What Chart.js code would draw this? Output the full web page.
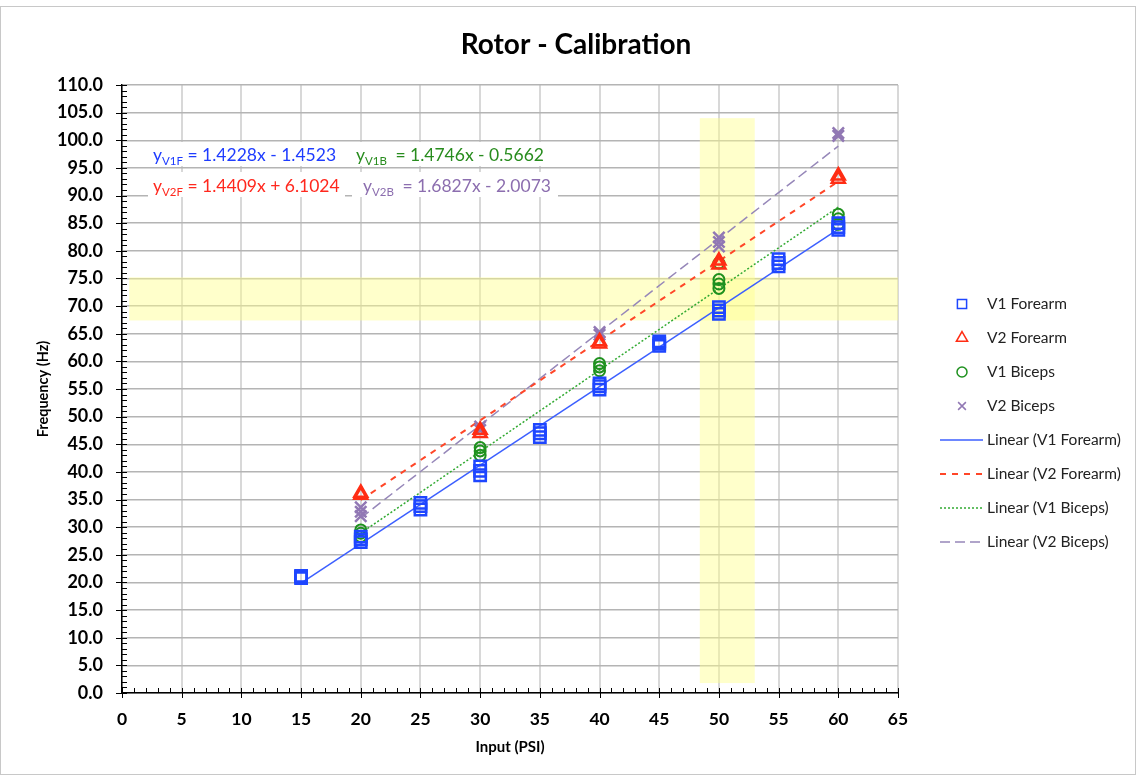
<!DOCTYPE html>
<html>
<head>
<meta charset="utf-8">
<script src="https://cdn.jsdelivr.net/npm/chart.js@4.4.1/dist/chart.umd.min.js"></script>
<style>
  html, body { margin: 0; padding: 0; background: #fff; }
  #wrap { width: 1137px; height: 776px; }
</style>
</head>
<body>
<div id="wrap"><canvas id="myChart" width="1137" height="776"></canvas></div>
<script>
// data
const seriesNames = ['V1 Forearm', 'V2 Forearm', 'V1 Biceps', 'V2 Biceps'];

const v1ForearmX = [15, 15, 15, 20, 20, 20, 25, 25, 25, 30, 30, 30, 35, 35, 35, 40, 40, 40, 45, 45, 45, 50, 50, 50, 55, 55, 55, 60, 60, 60];
const v1ForearmY = [20.8, 21.0, 21.2, 27.3, 27.8, 28.3, 33.2, 33.8, 34.4, 39.4, 40.2, 41.0, 46.3, 47.0, 47.6, 54.9, 55.5, 56.0, 62.8, 63.2, 63.6, 68.6, 69.2, 69.8, 77.2, 77.8, 78.5, 83.8, 84.3, 85.0];

const v2ForearmX = [20, 20, 30, 30, 40, 40, 50, 50, 60, 60];
const v2ForearmY = [35.8, 36.2, 47.0, 47.6, 63.2, 63.6, 77.5, 78.2, 93.0, 93.6];

const v1BicepsX = [20, 20, 20, 30, 30, 30, 40, 40, 40, 50, 50, 50, 50, 60, 60, 60];
const v1BicepsY = [28.3, 28.9, 29.5, 43.0, 43.8, 44.4, 58.3, 59.0, 59.6, 73.2, 74.0, 74.8, 77.8, 84.8, 85.8, 86.6];

const v2BicepsX = [20, 20, 20, 30, 30, 40, 40, 50, 50, 50, 60, 60];
const v2BicepsY = [32.0, 32.8, 33.6, 47.6, 48.2, 64.8, 65.3, 80.8, 81.6, 82.4, 100.8, 101.3];

// trendline equations printed on the chart
const trendSlopes = [1.4228, 1.4409, 1.4746, 1.6827];
const trendIntercepts = [-1.4523, 6.1024, -0.5662, -2.0073];
const trendFrom = [15, 20, 20, 20];
const trendTo = [60, 60, 60, 60];
const eqSubs = ['V1F', 'V2F', 'V1B', 'V2B'];

const xTicks = [0, 5, 10, 15, 20, 25, 30, 35, 40, 45, 50, 55, 60, 65];
const yTicks = [0, 5, 10, 15, 20, 25, 30, 35, 40, 45, 50, 55, 60, 65, 70, 75, 80, 85, 90, 95, 100, 105, 110];

// styles
const FONT = 'Lato, "Open Sans", sans-serif';
const markColors = ['rgb(30,70,255)', 'rgb(255,45,20)', 'rgb(30,145,30)', 'rgb(145,120,180)'];
const lineColors = ['rgb(60,95,255)', 'rgb(255,70,40)', 'rgb(50,170,50)', 'rgb(150,135,185)'];
const textColors = ['rgb(30,60,255)', 'rgb(255,40,30)', 'rgb(40,140,30)', 'rgb(140,110,175)'];
const markStyles = ['rect', 'triangle', 'circle', 'crossRot'];
const markRadius = [8, 7.5, 5.5, 8];
const markBorder = [2.5, 2.5, 2, 2.5];
const lineDashes = [[], [6, 6], [2, 2], [10, 5]];
const lineWidths = [1.5, 2, 1.5, 1.5];

const xsAll = [v1ForearmX, v2ForearmX, v1BicepsX, v2BicepsX];
const ysAll = [v1ForearmY, v2ForearmY, v1BicepsY, v2BicepsY];

const datasets = [];
for (let i = 0; i < 4; i++) {
  datasets.push({
    label: seriesNames[i],
    data: xsAll[i].map((x, k) => ({ x: x, y: ysAll[i][k] })),
    showLine: false,
    pointStyle: markStyles[i],
    pointRadius: markRadius[i],
    pointHoverRadius: markRadius[i],
    pointBorderWidth: markBorder[i],
    borderColor: markColors[i],
    backgroundColor: 'rgba(0,0,0,0)',
    order: 1
  });
}
for (let i = 0; i < 4; i++) {
  const a = trendFrom[i], b = trendTo[i];
  datasets.push({
    label: 'Linear (' + seriesNames[i] + ')',
    data: [
      { x: a, y: trendSlopes[i] * a + trendIntercepts[i] },
      { x: b, y: trendSlopes[i] * b + trendIntercepts[i] }
    ],
    showLine: true,
    borderColor: lineColors[i],
    borderWidth: lineWidths[i],
    borderDash: lineDashes[i],
    pointRadius: 0,
    fill: false,
    order: 2
  });
}

function eqText(i) {
  const b = trendIntercepts[i];
  return ' = ' + trendSlopes[i].toFixed(4) + 'x ' + (b < 0 ? '- ' : '+ ') + Math.abs(b).toFixed(4);
}

// yellow highlight bands (value space)
const bands = [
  { x0: 0.6, x1: 65, y0: 67.4, y1: 75.2 },
  { x0: 48.4, x1: 53.0, y0: 1.8, y1: 104 }
];

const extras = {
  id: 'extras',
  beforeDatasetsDraw(chart) {
    const { ctx, scales: { x, y } } = chart;
    ctx.save();
    ctx.fillStyle = 'rgba(255,255,140,0.45)';
    bands.forEach(b => {
      const px0 = x.getPixelForValue(b.x0), px1 = x.getPixelForValue(b.x1);
      const py0 = y.getPixelForValue(b.y1), py1 = y.getPixelForValue(b.y0);
      ctx.fillRect(px0, py0, px1 - px0, py1 - py0);
    });
    // equation labels
    const pos = [[153, 155], [153, 186], [356, 155], [363, 186]];
    const boxes = [[148, 142, 197, 24], [148, 172, 197, 25], [352, 142, 206, 24], [352, 172, 206, 25]];
    boxes.forEach(bx => {
      ctx.fillStyle = '#fff';
      ctx.fillRect(bx[0], bx[1], bx[2], bx[3]);
    });
    ctx.textBaseline = 'alphabetic';
    ctx.textAlign = 'left';
    for (let i = 0; i < 4; i++) {
      let [tx, ty] = pos[i];
      ty += 6;
      ctx.fillStyle = textColors[i];
      ctx.font = '17.5px ' + FONT;
      ctx.fillText('y', tx, ty);
      tx += ctx.measureText('y').width;
      ctx.font = '11.5px ' + FONT;
      ctx.fillText(eqSubs[i], tx, ty + 4);
      tx += ctx.measureText(eqSubs[i]).width + (i >= 2 ? 4 : 0);
      ctx.font = '17.5px ' + FONT;
      ctx.fillText(eqText(i), tx, ty);
    }
    ctx.restore();
  },
  afterDraw(chart) {
    const { ctx, scales: { x, y } } = chart;
    ctx.save();
    // axis tick marks
    ctx.strokeStyle = '#000';
    ctx.lineWidth = 1;
    const ax = x.getPixelForValue(0), ay = y.getPixelForValue(0);
    for (let v = 0; v <= 65; v++) {
      const px = Math.round(x.getPixelForValue(v)) + 0.5;
      ctx.beginPath();
      if (v % 5 === 0) { ctx.moveTo(px, ay - 5); ctx.lineTo(px, ay + 5); }
      else { ctx.moveTo(px, ay); ctx.lineTo(px, ay - 5); }
      ctx.stroke();
    }
    for (let v = 0; v <= 110; v++) {
      const py = Math.round(y.getPixelForValue(v)) + 0.5;
      ctx.beginPath();
      if (v % 5 === 0) { ctx.moveTo(ax - 6, py); ctx.lineTo(ax + 5, py); }
      else { ctx.moveTo(ax, py); ctx.lineTo(ax + 5, py); }
      ctx.stroke();
    }
    // title
    ctx.fillStyle = '#000';
    ctx.font = 'bold 28px ' + FONT;
    ctx.textAlign = 'center';
    ctx.textBaseline = 'middle';
    ctx.fillText('Rotor - Calibration', 576, 45);
    // legend
    ctx.textAlign = 'left';
    ctx.font = '15.5px ' + FONT;
    for (let i = 0; i < 8; i++) {
      const cy = 304 + 34 * i;
      const k = i % 4;
      ctx.save();
      if (i < 4) {
        ctx.strokeStyle = markColors[k];
        ctx.fillStyle = 'rgba(0,0,0,0)';
        ctx.lineWidth = 1.5;
        Chart.helpers.drawPoint(ctx, { pointStyle: markStyles[k], radius: [6.5, 6.5, 5, 5.5][k], rotation: 0, borderWidth: 1.5 }, 962, cy);
      } else {
        ctx.strokeStyle = lineColors[k];
        ctx.lineWidth = lineWidths[k];
        ctx.setLineDash(lineDashes[k]);
        ctx.beginPath();
        ctx.moveTo(940, cy);
        ctx.lineTo(983, cy);
        ctx.stroke();
      }
      ctx.restore();
      ctx.fillStyle = '#222';
      ctx.fillText(datasets[i].label, 987, cy);
    }
    // outer frame
    ctx.strokeStyle = '#c8c8c8';
    ctx.lineWidth = 1;
    ctx.strokeRect(0.5, 6.5, 1135, 768);
    ctx.restore();
  }
};

const ctx = document.getElementById('myChart').getContext('2d');
const myChart = new Chart(ctx, {
  type: 'scatter',
  data: { datasets: datasets },
  options: {
    responsive: false,
    animation: false,
    layout: { padding: { top: 85, right: 239, bottom: 0, left: 0 } },
    plugins: {
      legend: { display: false },
      title: { display: false },
      tooltip: { enabled: false }
    },
    scales: {
      x: {
        type: 'linear',
        min: 0,
        max: 65,
        afterFit(scale) { scale.height = 83; },
        afterBuildTicks(scale) { scale.ticks = xTicks.map(v => ({ value: v })); },
        ticks: { color: '#000', font: { family: FONT, size: 17.5, weight: 'bold' }, padding: 16 },
        grid: { color: '#d8d8d8', lineWidth: 2, drawTicks: false },
        border: { color: '#000', width: 1.5 },
        title: { display: true, text: 'Input (PSI)', color: '#000', font: { family: FONT, size: 15, weight: 'bold' }, padding: { top: 0, bottom: 20 } }
      },
      y: {
        type: 'linear',
        min: 0,
        max: 110,
        afterFit(scale) { scale.width = 122; },
        afterBuildTicks(scale) { scale.ticks = yTicks.map(v => ({ value: v })); },
        ticks: { color: '#000', font: { family: FONT, size: 18, weight: 'bold' }, padding: 19, callback: v => v.toFixed(1) },
        grid: { color: '#b4b4b4', lineWidth: 1.5, drawTicks: false },
        border: { color: '#000', width: 1.5 },
        title: { display: true, text: 'Frequency (Hz)', color: '#000', font: { family: FONT, size: 14.5, weight: 'bold' }, padding: { top: 35, bottom: 0 } }
      }
    }
  },
  plugins: [extras]
});
</script>
</body>
</html>
